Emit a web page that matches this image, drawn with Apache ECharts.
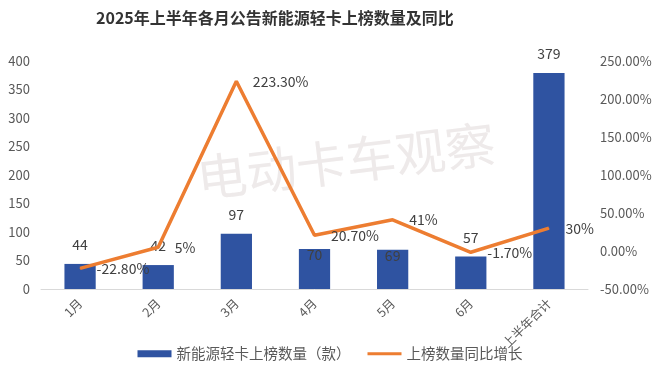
<!DOCTYPE html>
<html>
<head>
<meta charset="utf-8">
<script src="https://cdn.jsdelivr.net/npm/echarts@6/dist/echarts.min.js"></script>
<style>
  html, body { margin: 0; padding: 0; background: #fff; }
  #chart { width: 660px; height: 377px; }
</style>
</head>
<body>
<div id="chart"></div>
<script>
// 数据
const categories = ['1月', '2月', '3月', '4月', '5月', '6月', '上半年合计'];
const countData = [44, 42, 97, 70, 69, 57, 379];
const yoyData = [-22.8, 5, 223.3, 20.7, 41, -1.7, 30];
const legendNames = ['新能源轻卡上榜数量（款）', '上榜数量同比增长'];

const fontFamily = '"Noto Sans CJK SC", "Noto Sans", sans-serif';
const labelColor = '#404040';

let myChart = echarts.init(document.getElementById('chart'));

// 4月、5月的数字标签在 Excel 里被挤到柱子里面
const barData = countData.map((v, i) => {
    if (i === 3 || i === 4) {
        return { value: v, label: { offset: [0, 25] } };
    }
    return v;
});

const pctFormat = v => (Number.isInteger(v) ? v : v.toFixed(2)) + '%';

let option = {
    backgroundColor: '#fff',
    textStyle: { fontFamily: fontFamily },
    title: {
        text: '2025年上半年各月公告新能源轻卡上榜数量及同比',
        left: 91,
        top: 5,
        textStyle: {
            fontSize: 16,
            fontWeight: 'bold',
            color: '#333',
            fontFamily: fontFamily
        }
    },
    graphic: [{
        type: 'text',
        left: 194,
        top: 118,
        rotation: 0.12,
        z: 0,
        style: {
            text: '电动卡车观察',
            fontSize: 50,
            fontFamily: fontFamily,
            fill: '#eeeaea'
        }
    }],
    legend: {
        data: [
            { name: legendNames[0], icon: 'rect' },
            { name: legendNames[1], icon: 'path://M0,0 L34,0 L34,3 L0,3 Z' }
        ],
        bottom: 11,
        left: 'center',
        itemWidth: 34,
        itemHeight: 7,
        itemGap: 17,
        textStyle: { color: '#595959', fontSize: 14.5 }
    },
    grid: { left: 41, right: 72, top: 61, bottom: 88 },
    xAxis: [{
        type: 'category',
        data: categories,
        axisLine: { show: true, lineStyle: { color: '#d9d9d9', width: 1 } },
        axisTick: { show: false },
        axisLabel: {
            rotate: 45,
            color: '#595959',
            fontSize: 12.5,
            margin: 12
        }
    }],
    yAxis: [{
        type: 'value',
        min: 0,
        max: 400,
        interval: 50,
        axisLine: { show: false },
        axisTick: { show: false },
        splitLine: { show: false },
        axisLabel: { color: '#595959', fontSize: 13, margin: 11 }
    }, {
        type: 'value',
        min: -50,
        max: 250,
        interval: 50,
        axisLine: { show: false },
        axisTick: { show: false },
        splitLine: { show: false },
        axisLabel: {
            color: '#595959',
            fontSize: 13,
            margin: 12,
            formatter: v => v.toFixed(2) + '%'
        }
    }],
    series: [{
        name: legendNames[0],
        type: 'bar',
        data: barData,
        barWidth: '40%',
        z: 2,
        itemStyle: { color: '#2F53A1' },
        label: {
            show: true,
            position: 'top',
            distance: 12,
            color: labelColor,
            fontSize: 14
        }
    }, {
        name: legendNames[1],
        type: 'line',
        yAxisIndex: 1,
        data: yoyData,
        symbol: 'circle',
        symbolSize: 1,
        showSymbol: true,
        z: 3,
        lineStyle: { color: '#ED7D31', width: 3.5 },
        itemStyle: { color: '#ED7D31' },
        label: {
            show: true,
            position: 'right',
            distance: 16,
            color: labelColor,
            fontSize: 14,
            formatter: p => pctFormat(p.value)
        }
    }]
};
myChart.setOption(option);
</script>
</body>
</html>
